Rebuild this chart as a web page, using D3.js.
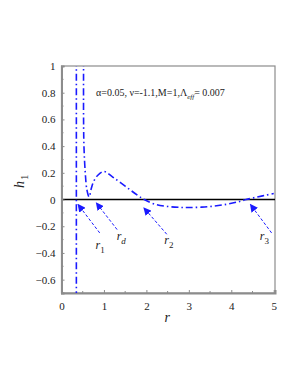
<!DOCTYPE html>
<meta charset="utf-8">
<style>
  body { margin: 0; background: #fff; }
  text { font-family: "Liberation Serif", "DejaVu Serif", serif; }
</style>
<svg width="298" height="385"></svg>
<script src="https://d3js.org/d3.v7.min.js"></script>
<script>

// curve h1(r)
var curveR = [0.52, 0.52, 0.53, 0.56, 0.60, 0.65, 0.70, 0.75, 0.85, 1.00, 1.20, 1.50, 1.80, 1.95, 2.20, 2.50, 2.80, 3.00, 3.30, 3.60, 3.90, 4.15, 4.35, 4.60, 4.80, 5.00];
var curveH = [1.05, 0.60, 0.39, 0.20, 0.07, 0.02, 0.08, 0.13, 0.18, 0.21, 0.17, 0.10, 0.03, 0.00, -0.035, -0.052, -0.059, -0.06, -0.057, -0.049, -0.035, -0.018, 0.00, 0.018, 0.032, 0.045];

// asymptote near r = 0.35
var asymR = [0.35, 0.35];
var asymH = [1.05, -0.75];

var xTicks = [0, 1, 2, 3, 4, 5];
var yTicks = [-0.6, -0.4, -0.2, 0, 0.2, 0.4, 0.6, 0.8, 1];

// arrows: label, head (r,h), tail (r,h), label position (r,h)
var arrowNames = ["1", "d", "2", "3"];
var arrowHead = [[0.39, -0.037], [0.82, -0.025], [1.94, -0.062], [4.45, -0.037]];
var arrowTail = [[0.90, -0.25], [1.31, -0.225], [2.48, -0.26], [4.95, -0.25]];
var arrowLabel = [[0.80, -0.37], [1.30, -0.30], [2.42, -0.335], [4.67, -0.30]];

var svg = d3.select("svg")

var x = d3.scaleLinear().domain([0, 5.03]).range([61.5, 275])
var y = d3.scaleLinear().domain([-0.7, 1]).range([293, 66])

var blue = "#1a1aff"
var gray = "#8c8c8c"

svg.append("defs").append("clipPath").attr("id", "clip")
  .append("rect")
    .attr("x", x(0)).attr("y", y(1))
    .attr("width", x(5.03) - x(0)).attr("height", y(-0.7) - y(1))

svg.select("defs").append("marker")
    .attr("id", "head")
    .attr("viewBox", "0 0 10 10")
    .attr("refX", 9).attr("refY", 5)
    .attr("markerWidth", 8).attr("markerHeight", 8)
    .attr("markerUnits", "userSpaceOnUse")
    .attr("orient", "auto")
  .append("path")
    .attr("d", "M0,0 L10,5 L0,10 z")
    .attr("fill", blue)

// frame
svg.append("rect")
    .attr("x", x(0)).attr("y", y(1))
    .attr("width", x(5.03) - x(0)).attr("height", y(-0.7) - y(1))
    .attr("fill", "none").attr("stroke", gray).attr("stroke-width", 1.2)

// zero line
svg.append("line")
    .attr("x1", x(0)).attr("x2", x(5.03))
    .attr("y1", y(0)).attr("y2", y(0))
    .attr("stroke", "#000").attr("stroke-width", 1.5)

// axes
var xAxis = svg.append("g")
    .attr("transform", "translate(0," + y(-0.7) + ")")
    .call(d3.axisBottom(x).tickValues(xTicks).tickSize(-3).tickPadding(9).tickFormat(d3.format("d")))
var yAxis = svg.append("g")
    .attr("transform", "translate(" + x(0) + ",0)")
    .call(d3.axisLeft(y).tickValues(yTicks).tickSize(-3).tickPadding(6)
      .tickFormat(function (d) { return d === 0 ? "0" : d3.format("")(d).replace("-", "\u2212") }))

// minor ticks
svg.append("g").selectAll("line")
  .data(d3.range(0.5, 5, 1))
  .enter().append("line")
    .attr("x1", function (d) { return x(d) }).attr("x2", function (d) { return x(d) })
    .attr("y1", y(-0.7)).attr("y2", y(-0.7) - 2)
    .attr("stroke", gray)
svg.append("g").selectAll("line")
  .data(d3.range(-0.7, 1, 0.2))
  .enter().append("line")
    .attr("y1", function (d) { return y(d) }).attr("y2", function (d) { return y(d) })
    .attr("x1", x(0)).attr("x2", x(0) + 2)
    .attr("stroke", gray)

;[xAxis, yAxis].forEach(function (g) {
  g.select(".domain").attr("stroke", gray).attr("stroke-width", 2)
  g.selectAll(".tick line").attr("stroke", gray)
  g.selectAll(".tick text").attr("font-size", 11).attr("fill", "#222")
    .style("font-family", "'Liberation Serif', serif")
})

// curves
var line = d3.line()
    .x(function (d) { return x(d[0]) })
    .y(function (d) { return y(d[1]) })
    .curve(d3.curveMonotoneX)

var plot = svg.append("g").attr("clip-path", "url(#clip)")

plot.append("path")
    .datum(asymR.map(function (r, i) { return [r, asymH[i]] }))
    .attr("d", d3.line().x(function (d) { return x(d[0]) }).y(function (d) { return y(d[1]) }))
    .attr("fill", "none").attr("stroke", blue).attr("stroke-width", 1.6)
    .attr("stroke-dasharray", "7,3,1.5,3")

plot.append("path")
    .datum(curveR.map(function (r, i) { return [r, curveH[i]] }))
    .attr("d", d3.line().x(function (d) { return x(d[0]) }).y(function (d) { return y(d[1]) }).curve(d3.curveCatmullRom))
    .attr("fill", "none").attr("stroke", blue).attr("stroke-width", 1.6)
    .attr("stroke-dasharray", "7,3,1.5,3")

// arrows
arrowNames.forEach(function (name, i) {
  svg.append("line")
      .attr("x1", x(arrowTail[i][0])).attr("y1", y(arrowTail[i][1]))
      .attr("x2", x(arrowHead[i][0])).attr("y2", y(arrowHead[i][1]))
      .attr("stroke", blue).attr("stroke-width", 1)
      .attr("stroke-dasharray", "3,2")
      .attr("marker-end", "url(#head)")
  var t = svg.append("text")
      .attr("x", x(arrowLabel[i][0])).attr("y", y(arrowLabel[i][1]))
      .attr("font-size", 12).attr("fill", "#222")
  t.append("tspan").attr("font-style", "italic").text("r")
  t.append("tspan").attr("font-size", 9).attr("dy", 4)
    .attr("font-style", name === "d" ? "italic" : "normal").text(name)
})

// parameter text
var title = svg.append("text")
    .attr("x", 96).attr("y", 96)
    .attr("font-size", 10).attr("fill", "#222")
title.append("tspan").text("\u03b1=0.05, \u03bd=-1.1,M=1,\u039b")
title.append("tspan").attr("font-size", 7).attr("font-style", "italic").attr("dy", 3).text("eff")
title.append("tspan").attr("dy", -3).text("= 0.007")

// axis labels
svg.append("text")
    .attr("x", (x(0) + x(5.03)) / 2 - 1).attr("y", 322)
    .attr("text-anchor", "middle")
    .attr("font-size", 14).attr("font-style", "italic").attr("fill", "#222")
    .text("r")

var yl = svg.append("text")
    .attr("transform", "translate(24,188) rotate(-90)")
    .attr("font-size", 14).attr("fill", "#222")
yl.append("tspan").attr("font-style", "italic").text("h")
yl.append("tspan").attr("font-size", 11).attr("dy", 4).attr("dx", 1).text("1")

</script>
